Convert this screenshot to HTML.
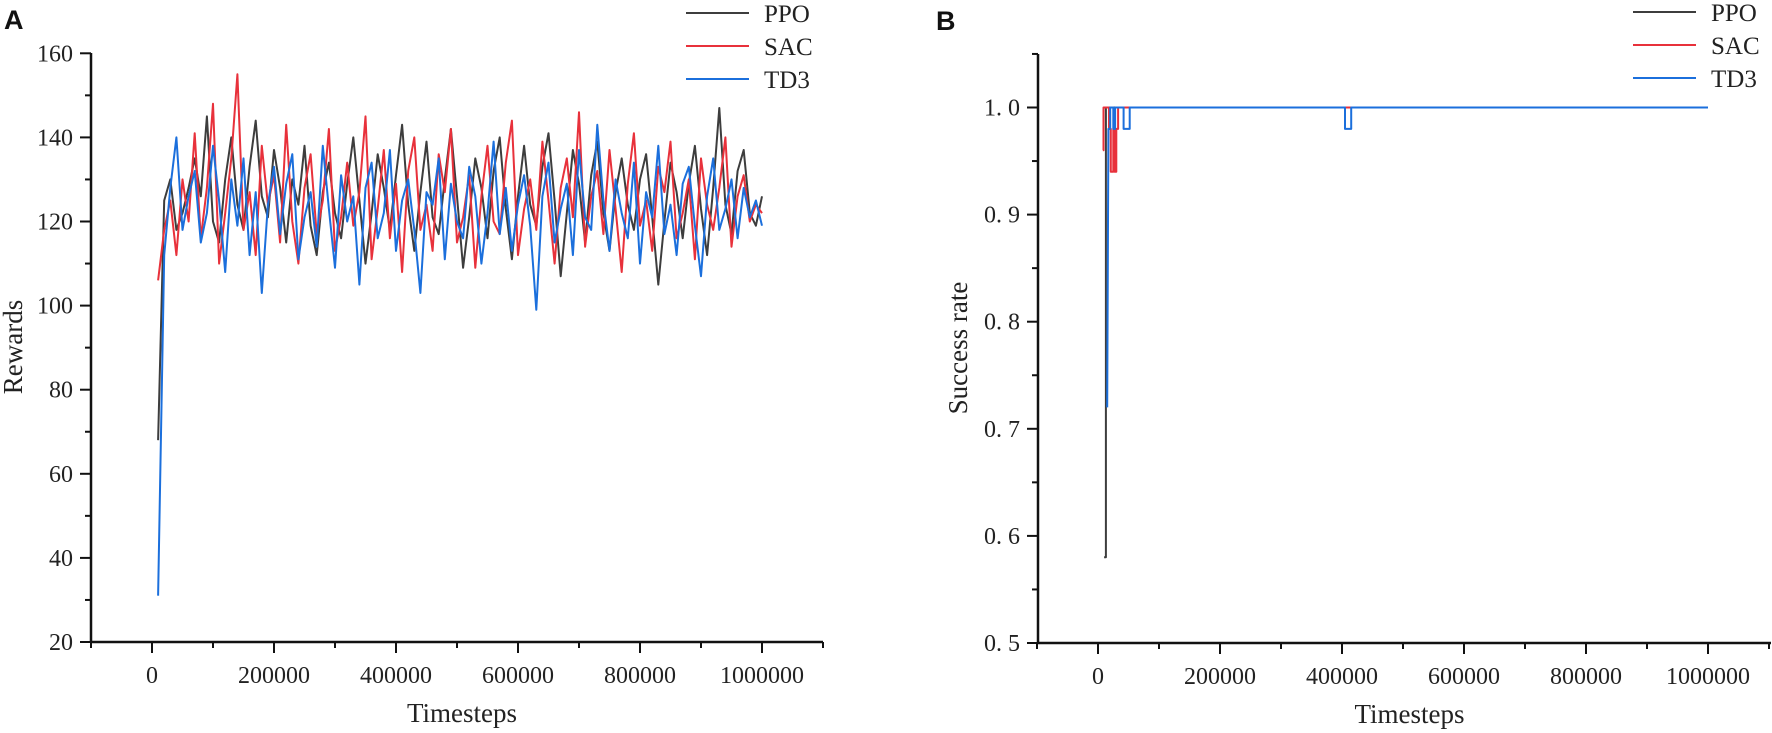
<!DOCTYPE html>
<html><head><meta charset="utf-8">
<style>
html,body{margin:0;padding:0;background:#fff;}
svg{display:block;}
text{font-family:"Liberation Serif",serif;fill:#222;}
</style></head>
<body>
<svg id="chart" width="1772" height="733" viewBox="0 0 1772 733" xmlns="http://www.w3.org/2000/svg">
<text x="4" y="29" style="font-family:'Liberation Sans',sans-serif;font-weight:bold;font-size:27px;fill:#111">A</text>
<text x="936" y="30" style="font-family:'Liberation Sans',sans-serif;font-weight:bold;font-size:27px;fill:#111">B</text>
<g id="left"></g>
<g id="right"></g>
</svg>
<script>
const ppoRewards=[68,125,130,118,122,128,135,126,145,120,115,130,140,124,118,133,144,126,121,137,128,115,130,124,138,119,112,127,134,122,116,129,140,125,110,122,136,128,118,131,143,124,113,127,139,121,117,130,142,126,109,121,135,128,116,132,140,123,111,126,138,124,119,133,141,125,107,122,137,129,115,131,139,122,113,127,135,124,118,130,136,121,105,120,134,127,116,129,138,123,112,128,147,124,117,132,137,122,119,126];
const sacRewards=[106,118,125,112,130,120,141,116,128,148,110,122,135,155,118,127,112,138,124,131,115,143,120,110,128,136,117,125,142,113,121,134,119,127,145,111,123,137,116,129,108,132,140,118,124,113,136,127,142,115,121,131,109,126,138,120,117,134,144,112,123,130,118,139,125,110,128,135,121,146,114,126,132,117,137,123,108,129,141,119,125,113,133,127,139,116,122,130,111,135,124,118,128,140,114,126,131,120,124,122];
const td3Rewards=[31,112,128,140,118,126,132,115,122,138,125,108,130,119,135,112,127,103,124,133,117,129,136,111,121,127,114,138,123,109,131,120,126,105,128,134,116,122,137,113,125,130,118,103,127,124,135,111,129,120,116,133,126,110,122,139,117,128,113,124,131,119,99,126,134,115,123,129,112,137,121,118,143,125,113,130,122,116,134,110,127,121,138,117,124,112,129,133,119,107,126,135,118,123,130,116,128,121,125,119];
const rewardStartStep=10000;
const rewardStepSize=10000;
// success-rate step series: [timestep, value]
const ppoSuccessT=[10000,10000,13000,13000,1000000];
const ppoSuccessV=[0.58,0.58,0.58,1.0,1.0];
const sacSuccessT=[8000,9000,9000,18000,18000,21000,21000,25000,25000,27000,27000,30000,30000,33000,33000,1000000];
const sacSuccessV=[0.96,0.96,1.0,1.0,0.98,0.98,0.94,0.94,0.98,0.98,0.94,0.94,0.98,0.98,1.0,1.0];
const td3SuccessT=[15000,17000,17000,20000,20000,25000,25000,28000,28000,42000,42000,50000,50000,52000,52000,405000,405000,415000,415000,1000000];
const td3SuccessV=[0.72,0.98,0.98,0.98,1.0,1.0,0.98,0.98,1.0,1.0,0.98,0.98,0.98,0.98,1.0,1.0,0.98,0.98,1.0,1.0];
const xTicks=[0,200000,400000,600000,800000,1000000];
const leftYTicks=[20,40,60,80,100,120,140,160];
const rightYTicks=[0.5,0.6,0.7,0.8,0.9,1.0];
const rightYLabels=["0. 5","0. 6","0. 7","0. 8","0. 9","1. 0"];
const seriesNames=["PPO","SAC","TD3"];
const colors=["#3d3d3d","#e8313b","#1b6fdc"];

const NS="http://www.w3.org/2000/svg";
function mk(parent,tag,attrs,name){const e=document.createElementNS(NS,tag);for(const k in attrs)e.setAttribute(k,attrs[k]);parent.appendChild(e);return e;}

function drawPanel(g,cfg){
  const X=cfg.X,Y=cfg.Y;
  // axes
  let a=mk(g,'line',{x1:cfg.axX,y1:cfg.axTop,x2:cfg.axX,y2:cfg.axY,stroke:'#111','stroke-width':2.5});
  
  
  a=mk(g,'line',{x1:cfg.axX,y1:cfg.axY,x2:cfg.axRight,y2:cfg.axY,stroke:'#111','stroke-width':2.5});
  
  
  // x ticks
  for(let v=-100000;v<=1100000;v+=100000){
    const x=X(v); if(x<cfg.axX-1||x>cfg.axRight+1)continue;
    const major=(v%200000===0);
    const t=mk(g,'line',{x1:x,y1:cfg.axY,x2:x,y2:cfg.axY+(major?11:6),stroke:'#111','stroke-width':2});
    
    
  }
  xTicks.forEach(v=>{
    const t=mk(g,'text',{x:X(v),y:cfg.axY+41,'text-anchor':'middle','font-size':24});
    t.textContent=String(v);
    
    
  });
  // y ticks
  cfg.yTicks.forEach((v,i)=>{
    const y=Y(v);
    const t=mk(g,'line',{x1:cfg.axX-11,y1:y,x2:cfg.axX,y2:y,stroke:'#111','stroke-width':2});
    
    
    const l=mk(g,'text',{x:cfg.axX-18,y:y+8,'text-anchor':'end','font-size':24});
    l.textContent=cfg.yLabels[i];
    
    
    if(i<cfg.yTicks.length-1||cfg.extraMinor){
      const nv=(i<cfg.yTicks.length-1)?(v+cfg.yTicks[i+1])/2:v+(v-cfg.yTicks[i-1])/2;
      const m=mk(g,'line',{x1:cfg.axX-6,y1:Y(nv),x2:cfg.axX,y2:Y(nv),stroke:'#111','stroke-width':2});
      
      
    }
  });
  let t=mk(g,'text',{x:(cfg.axX+cfg.axRight)/2+5,y:cfg.axY+80,'text-anchor':'middle','font-size':27});
  t.textContent='Timesteps';
  
  
  t=mk(g,'text',{x:cfg.yTitleX,y:cfg.yTitleY,'text-anchor':'middle','font-size':27,transform:`rotate(-90 ${cfg.yTitleX} ${cfg.yTitleY})`});
  t.textContent=cfg.yTitle;
  
  
  // series
  cfg.series.forEach((s,k)=>{
    const pts=s.t.map((tt,i)=>X(tt).toFixed(1)+','+Y(s.v[i]).toFixed(1)).join(' ');
    const p=mk(g,'polyline',{points:pts,fill:'none',stroke:colors[k],'stroke-width':2,'stroke-linejoin':'round'});
    
    
  });
  // legend
  seriesNames.forEach((n,k)=>{
    const y=cfg.legY+k*33;
    const ln=mk(g,'line',{x1:cfg.legX,y1:y,x2:cfg.legX+63,y2:y,stroke:colors[k],'stroke-width':2});
    
    
    const tx=mk(g,'text',{x:cfg.legX+78,y:y+9,'font-size':25});
    tx.textContent=n;
    
    
  });
}
function stepTimes(arr){return arr.map((_,i)=>rewardStartStep+i*rewardStepSize);}
drawPanel(document.getElementById('left'),{
  X:v=>152+v*0.00061, Y:v=>642-(v-20)*4.205,
  axX:91,axTop:53,axY:642,axRight:823,
  yTicks:leftYTicks,yLabels:leftYTicks.map(String),extraMinor:false,
  yTitle:'Rewards',yTitleX:22,yTitleY:347,
  legX:686,legY:13,
  series:[{t:stepTimes(ppoRewards),v:ppoRewards},{t:stepTimes(sacRewards),v:sacRewards},{t:stepTimes(td3Rewards),v:td3Rewards}]
});
drawPanel(document.getElementById('right'),{
  X:v=>1098+v*0.00061, Y:v=>643-(v-0.5)*1071,
  axX:1038,axTop:54,axY:643,axRight:1771,
  yTicks:rightYTicks,yLabels:rightYLabels,extraMinor:true,
  yTitle:'Success rate',yTitleX:967,yTitleY:348,
  legX:1633,legY:12,
  series:[{t:ppoSuccessT,v:ppoSuccessV},{t:sacSuccessT,v:sacSuccessV},{t:td3SuccessT,v:td3SuccessV}]
});
</script>
</body></html>
